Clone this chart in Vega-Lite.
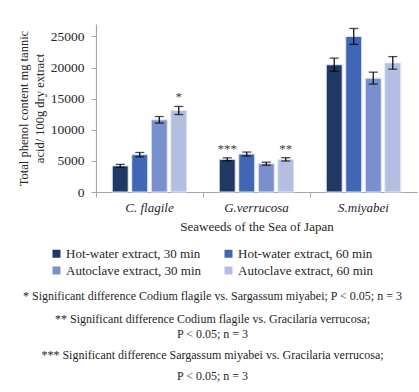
{
  "$schema": "https://vega.github.io/schema/vega-lite/v6.json",
  "width": 321,
  "height": 168,
  "autosize": {"type": "none"},
  "padding": {"left": 96, "top": 24, "right": 2, "bottom": 200},
  "background": "white",
  "config": {
    "font": "Liberation Serif",
    "view": {"stroke": null},
    "axis": {"grid": false, "labelColor": "#262626", "titleColor": "#262626", "titleFontWeight": "normal", "domainColor": "#a6a6a6", "tickColor": "#a6a6a6"},
    "axisY": {"labelOverlap": false, "labelFontSize": 13.5, "labelPadding": 7, "tickSize": 5, "domainWidth": 1.2, "titleFontSize": 12.5, "titleLineHeight": 16, "titlePadding": 4}
  },
  "title": {
    "text": ["* Significant difference Codium flagile vs. Sargassum miyabei; P < 0.05; n = 3", "** Significant difference Codium flagile vs. Gracilaria verrucosa;"],
    "subtitle": ["P < 0.05; n = 3", "*** Significant difference Sargassum miyabei vs. Gracilaria verrucosa;", "P < 0.05; n = 3"],
    "orient": "bottom",
    "anchor": "middle",
    "frame": "group",
    "dx": -44,
    "limit": 0,
    "font": "Liberation Serif",
    "fontSize": 12,
    "fontWeight": "normal",
    "color": "#262626",
    "lineHeight": 23,
    "subtitleFont": "Liberation Serif",
    "subtitleFontSize": 12,
    "subtitleColor": "#262626",
    "subtitleLineHeight": 21,
    "subtitlePadding": 3,
    "offset": 13
  },
  "data": {
    "values": [
      {"seaweed": "C. flagile", "extract": "Hot-water extract, 30 min", "value": 4200, "err": 240, "sig": ""},
      {"seaweed": "C. flagile", "extract": "Hot-water extract, 60 min", "value": 6000, "err": 350, "sig": ""},
      {"seaweed": "C. flagile", "extract": "Autoclave extract, 30 min", "value": 11600, "err": 530, "sig": ""},
      {"seaweed": "C. flagile", "extract": "Autoclave extract, 60 min", "value": 13100, "err": 650, "sig": "*"},
      {"seaweed": "G.verrucosa", "extract": "Hot-water extract, 30 min", "value": 5250, "err": 240, "sig": "***"},
      {"seaweed": "G.verrucosa", "extract": "Hot-water extract, 60 min", "value": 6100, "err": 320, "sig": ""},
      {"seaweed": "G.verrucosa", "extract": "Autoclave extract, 30 min", "value": 4550, "err": 240, "sig": ""},
      {"seaweed": "G.verrucosa", "extract": "Autoclave extract, 60 min", "value": 5250, "err": 270, "sig": "**"},
      {"seaweed": "S.miyabei", "extract": "Hot-water extract, 30 min", "value": 20450, "err": 1070, "sig": ""},
      {"seaweed": "S.miyabei", "extract": "Hot-water extract, 60 min", "value": 25000, "err": 1280, "sig": ""},
      {"seaweed": "S.miyabei", "extract": "Autoclave extract, 30 min", "value": 18300, "err": 960, "sig": ""},
      {"seaweed": "S.miyabei", "extract": "Autoclave extract, 60 min", "value": 20750, "err": 1010, "sig": ""}
    ]
  },
  "encoding": {
    "x": {
      "field": "seaweed", "type": "nominal", "sort": null,
      "scale": {"paddingInner": 0, "paddingOuter": 0},
      "axis": {"title": "Seaweeds of the Sea of Japan", "titleFontSize": 13, "titlePadding": 6, "labelAngle": 0, "labelFontSize": 13, "labelFontStyle": "italic", "labelPadding": 4, "tickSize": 5, "bandPosition": 0, "domainWidth": 1.2}
    },
    "xOffset": {
      "field": "extract", "type": "nominal", "sort": null,
      "scale": {"paddingInner": 0.18, "paddingOuter": 0.83}
    }
  },
  "layer": [
    {
      "mark": {"type": "bar", "stroke": "#e4e9f5", "strokeWidth": 1},
      "encoding": {
        "y": {
          "field": "value", "type": "quantitative",
          "scale": {"domain": [0, 27000], "nice": false},
          "axis": {"values": [0, 5000, 10000, 15000, 20000, 25000], "format": "d", "title": ["Total phenol content mg tannic", "acid/ 100g dry extract"]}
        },
        "color": {
          "field": "extract", "type": "nominal", "sort": null,
          "scale": {"domain": ["Hot-water extract, 30 min", "Hot-water extract, 60 min", "Autoclave extract, 30 min", "Autoclave extract, 60 min"], "range": ["#203864", "#3f67b6", "#7990cf", "#b3bee0"]},
          "legend": {"title": null, "orient": "none", "direction": "horizontal", "legendX": -46, "legendY": 223, "columns": 2, "columnPadding": 20, "rowPadding": 3, "symbolType": "square", "symbolSize": 64, "symbolStrokeWidth": 0, "labelFontSize": 13, "labelColor": "#262626", "labelOffset": 3, "labelLimit": 200}
        }
      }
    },
    {
      "mark": {"type": "rule", "color": "#000000", "strokeWidth": 1.2},
      "encoding": {
        "y": {"field": "lo", "type": "quantitative", "axis": {"values": [0, 5000, 10000, 15000, 20000, 25000], "format": "d", "title": ["Total phenol content mg tannic", "acid/ 100g dry extract"]}},
        "y2": {"field": "hi"}
      }
    },
    {
      "mark": {"type": "tick", "color": "#000000", "size": 9, "thickness": 1.3},
      "encoding": {"y": {"field": "lo", "type": "quantitative", "axis": {"values": [0, 5000, 10000, 15000, 20000, 25000], "format": "d", "title": ["Total phenol content mg tannic", "acid/ 100g dry extract"]}}}
    },
    {
      "mark": {"type": "tick", "color": "#000000", "size": 9, "thickness": 1.3},
      "encoding": {"y": {"field": "hi", "type": "quantitative", "axis": {"values": [0, 5000, 10000, 15000, 20000, 25000], "format": "d", "title": ["Total phenol content mg tannic", "acid/ 100g dry extract"]}}}
    },
    {
      "mark": {"type": "text", "fontSize": 13, "color": "#3b3b3b", "baseline": "middle", "dy": -9},
      "encoding": {
        "y": {"field": "hi", "type": "quantitative", "axis": {"values": [0, 5000, 10000, 15000, 20000, 25000], "format": "d", "title": ["Total phenol content mg tannic", "acid/ 100g dry extract"]}},
        "text": {"field": "sig"}
      }
    }
  ],
  "transform": [
    {"calculate": "datum.value - datum.err", "as": "lo"},
    {"calculate": "datum.value + datum.err", "as": "hi"}
  ]
}
